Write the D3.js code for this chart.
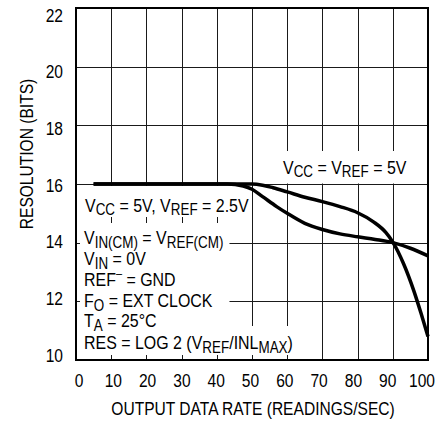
<!DOCTYPE html>
<html>
<head>
<meta charset="utf-8">
<script src="https://cdn.jsdelivr.net/npm/d3@7"></script>
<style>
  html, body { margin: 0; padding: 0; background: #fff; }
  svg { display: block; }
  text { font-family: 'Liberation Sans', Arial, sans-serif; fill: #000; }
</style>
</head>
<body>
<svg id="chart" width="447" height="422"></svg>
<script>
// ---------- data ----------
const xTickValues = [0, 10, 20, 30, 40, 50, 60, 70, 80, 90, 100];
const yTickValues = [10, 12, 14, 16, 18, 20, 22];

// V_CC = V_REF = 5V
const rateA = [5, 45, 50, 53, 56, 60, 65, 70, 75, 80, 84.5, 88, 90, 93, 96, 98, 100];
const resA  = [16, 16, 16, 15.96, 15.87, 15.73, 15.55, 15.4, 15.23, 15.02, 14.71, 14.35, 14.02, 13.3, 12.35, 11.6, 10.8];

// V_CC = 5V, V_REF = 2.5V
const rateB = [5, 43, 47.5, 50, 53, 57, 60, 65, 70, 75, 80, 85, 90, 95, 100];
const resB  = [16, 16, 15.93, 15.82, 15.57, 15.23, 15.0, 14.66, 14.45, 14.3, 14.2, 14.11, 14.0, 13.81, 13.55];

const xTitle = "OUTPUT DATA RATE (READINGS/SEC)";
const yTitle = "RESOLUTION (BITS)";

// ---------- layout ----------
const svg = d3.select("#chart");
const L = 76, R = 428, T = 8, B = 360;
const x = d3.scaleLinear().domain([0, 100]).range([L, R]);
const y = d3.scaleLinear().domain([10, 22]).range([B, T]);
// tick labels in the original are slightly compressed relative to the grid
const xLab = d3.scaleLinear().domain([0, 100]).range([79, 422]);
const yLab = d3.scaleLinear().domain([10, 22]).range([355, 15]);
const FS = 19, SUB = 16, SX = 0.82, SXA = 0.84;

// grid
const grid = svg.append("g").attr("stroke", "#1a1a1a").attr("stroke-width", 1).attr("shape-rendering", "crispEdges");
grid.selectAll("line.v").data(xTickValues.slice(1, -1)).enter().append("line")
  .attr("x1", d => Math.round(x(d)) + 0.5).attr("x2", d => Math.round(x(d)) + 0.5)
  .attr("y1", T).attr("y2", B);
grid.selectAll("line.h").data(yTickValues.slice(1, -1)).enter().append("line")
  .attr("y1", d => Math.round(y(d)) + 0.5).attr("y2", d => Math.round(y(d)) + 0.5)
  .attr("x1", L).attr("x2", R);

// condensed text helper
function ctext(parent, xPos, yPos, str, anchor, rot) {
  const g = parent.append("g")
    .attr("transform", `translate(${xPos},${yPos})` + (rot ? ` rotate(${rot})` : "") + ` scale(${SX},1)`);
  return g.append("text").attr("x", 0).attr("y", 0).attr("font-size", FS)
    .attr("text-anchor", anchor || "start").text(str);
}

function rich(parent, xPos, yPos, parts) {
  const g = parent.append("g").attr("transform", `translate(${xPos},${yPos}) scale(${SXA},1)`);
  const t = g.append("text").attr("x", 0).attr("y", 0).attr("font-size", FS);
  let off = 0;
  parts.forEach(p => {
    const s = typeof p === "string" ? { t: p } : p;
    let target = 0, size = FS;
    if (s.sub) { target = 3.5; size = SUB; }
    if (s.sup) { target = -8; size = 13; }
    const ts = t.append("tspan").attr("font-size", size).text(s.t);
    if (target !== off) { ts.attr("dy", target - off); off = target; }
  });
  return t;
}

const boxes = svg.append("g");
const ann = svg.append("g");

const gA = ann.append("g");
rich(gA, 283, 173.5, ["V", { t: "CC", sub: true }, " = V", { t: "REF", sub: true }, " = 5V"]);
const gB = ann.append("g");
rich(gB, 85, 211.5, ["V", { t: "CC", sub: true }, " = 5V, V", { t: "REF", sub: true }, " = 2.5V"]);
const gC = ann.append("g");
rich(gC, 84, 244, ["V", { t: "IN(CM)", sub: true }, " = V", { t: "REF(CM)", sub: true }]);
rich(gC, 84, 265, ["V", { t: "IN", sub: true }, " = 0V"]);
rich(gC, 84, 286, ["REF", { t: "\u2013", sup: true }, " = GND"]);
rich(gC, 84, 307, ["F", { t: "O", sub: true }, " = EXT CLOCK"]);
rich(gC, 84, 327, ["T", { t: "A", sub: true }, " = 25\u00B0C"]);
const gD = ann.append("g");
rich(gD, 84, 349, ["RES = LOG 2 (V", { t: "REF", sub: true }, "/INL", { t: "MAX", sub: true }, ")"]);

function box(g, padL, padR, top, bottom, maxRight) {
  const bb = g.node().getBBox();
  const left = bb.x - padL;
  let right = bb.x + bb.width + padR;
  if (maxRight !== undefined) right = Math.min(right, maxRight);
  boxes.append("rect").attr("x", left).attr("y", top)
    .attr("width", right - left).attr("height", bottom - top).attr("fill", "#fff");
}
box(gA, 3, 40, 151, 183.5, R - 1);
box(gB, 5, 1, 186, 217, x(50) - 1);
box(gC, 4, 6, 223, 330, 232);
box(gD, 4, 3, 326, 355);

// frame
svg.append("rect").attr("x", L).attr("y", T).attr("width", R - L).attr("height", B - T)
  .attr("fill", "none").attr("stroke", "#000").attr("stroke-width", 2);

// curves
const line = d3.line().x(d => x(d[0])).y(d => y(d[1])).curve(d3.curveMonotoneX);
const curves = svg.append("g").attr("fill", "none").attr("stroke", "#000").attr("stroke-width", 3.5)
  .attr("stroke-linejoin", "round");
curves.append("path").attr("d", line(d3.zip(rateA, resA)));
curves.append("path").attr("d", line(d3.zip(rateB, resB)));

ann.raise();

// tick labels
const xl = svg.append("g");
xTickValues.forEach(d => ctext(xl, xLab(d), 387, d, "middle"));
const yl = svg.append("g");
yTickValues.forEach(d => ctext(yl, 63, yLab(d) + 6.6, d, "end"));

// axis titles
ctext(svg, (L + R) / 2 + 1, 415, xTitle, "middle");
ctext(svg, 33, 154, yTitle, "middle", -90);
</script>
</body>
</html>
